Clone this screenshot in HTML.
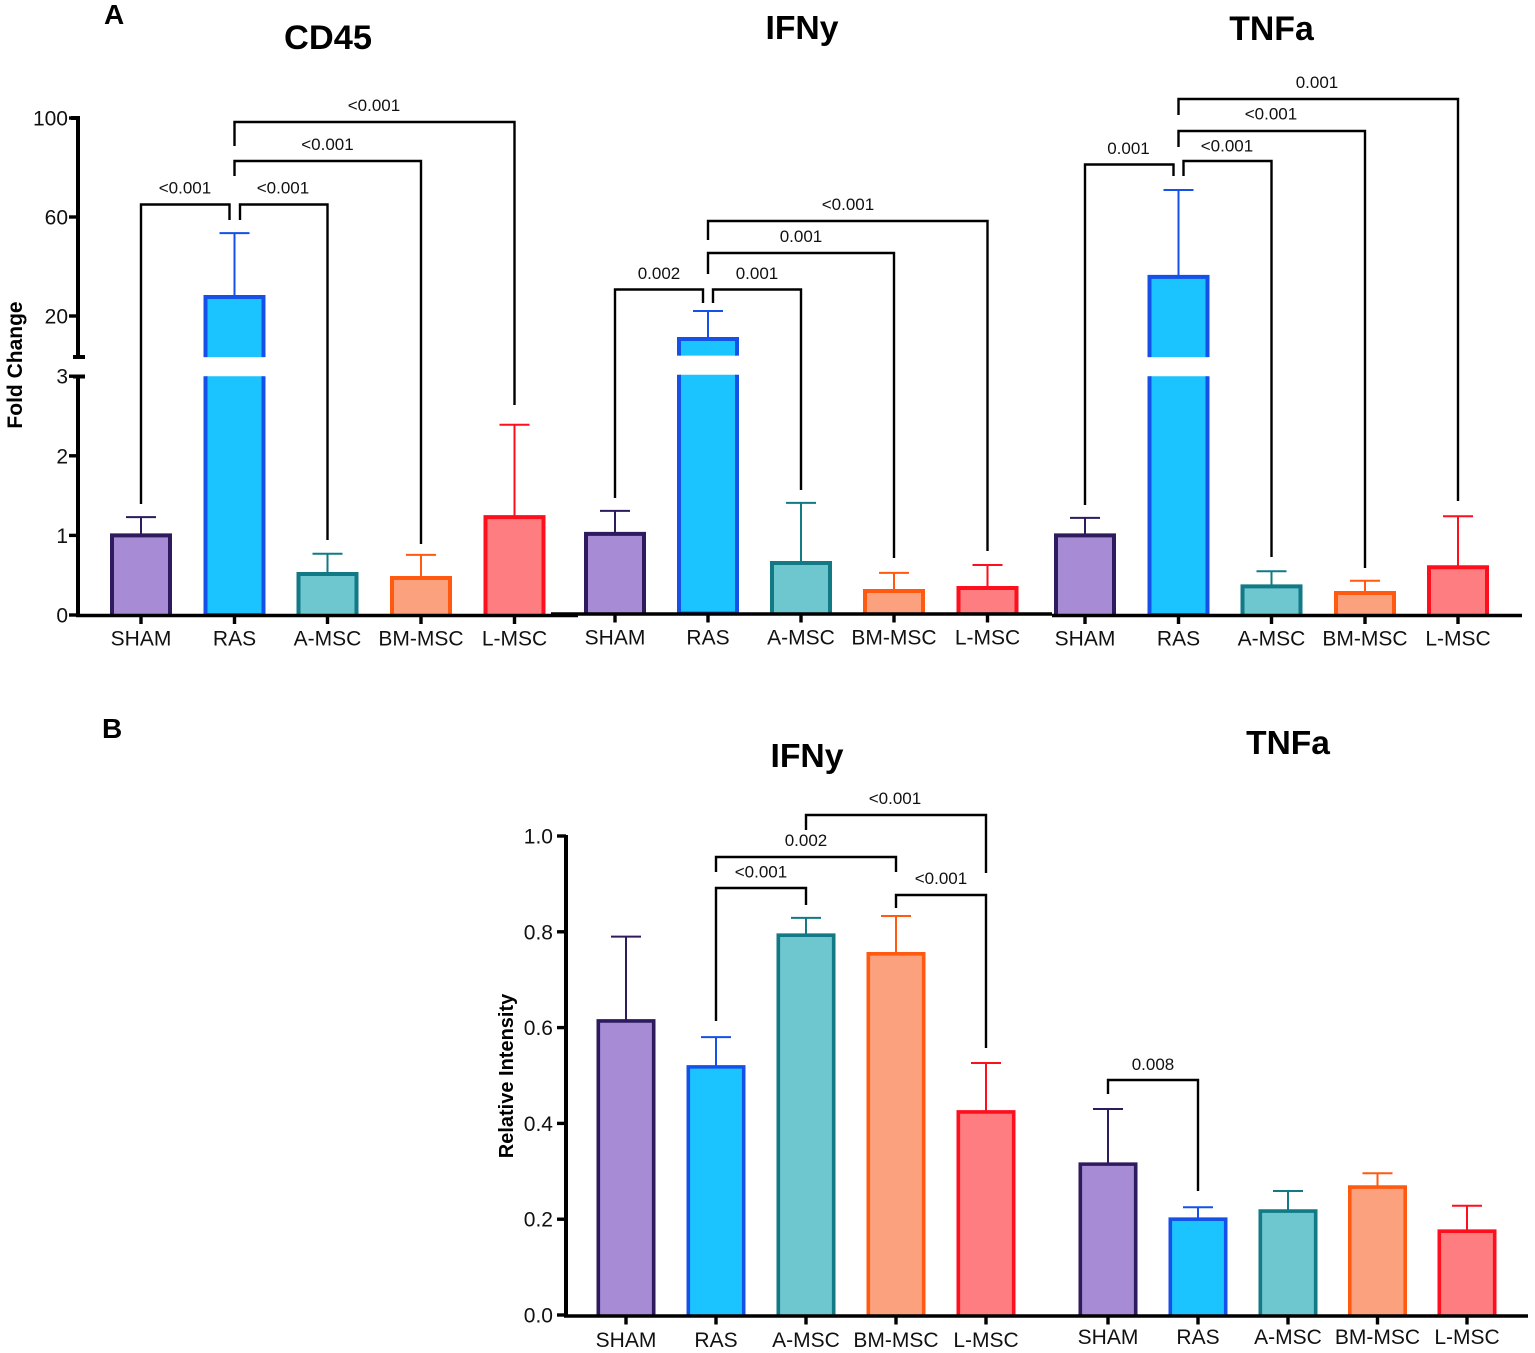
<!DOCTYPE html>
<html lang="en">
<head>
<meta charset="utf-8">
<title>Fold change and relative intensity bar charts</title>
<style>
html,body{margin:0;padding:0;background:#fff;}
body{width:1535px;height:1353px;overflow:hidden;}
svg{display:block;font-family:"Liberation Sans",Arial,sans-serif;}
</style>
</head>
<body>
<svg id="figure" xmlns="http://www.w3.org/2000/svg" width="1535" height="1353" viewBox="0 0 1535 1353">
  <rect x="0" y="0" width="1535" height="1353" fill="#fff"/>
  <text x="104" y="24" font-size="28" font-weight="700">A</text>
  <text x="102" y="738" font-size="28" font-weight="700">B</text>
  <text x="328" y="49" font-size="34.4" font-weight="700" text-anchor="middle">CD45</text>
  <text x="802" y="39" font-size="33.7" font-weight="700" text-anchor="middle">IFNy</text>
  <text x="1271.500" y="40" font-size="33.8" font-weight="700" text-anchor="middle">TNFa</text>
  <text x="807" y="767" font-size="33.7" font-weight="700" text-anchor="middle">IFNy</text>
  <text x="1288" y="754" font-size="33.5" font-weight="700" text-anchor="middle">TNFa</text>
  <text transform="translate(22 365) rotate(-90)" font-size="21" font-weight="700" text-anchor="middle">Fold Change</text>
  <text transform="translate(513 1076) rotate(-90)" font-size="20" font-weight="700" text-anchor="middle">Relative Intensity</text>
</svg>
<script>
// ---- Data ----
const categories = ['SHAM', 'RAS', 'A-MSC', 'BM-MSC', 'L-MSC'];

const cd45Means = [1.0, 27.7, 0.515, 0.465, 1.23];
const cd45Tops = [1.23, 53.5, 0.77, 0.755, 2.39];
const ifnyAMeans = [1.0, 10.1, 0.634, 0.283, 0.32];
const ifnyATops = [1.29, 21.4, 1.39, 0.51, 0.61];
const tnfaAMeans = [1.0, 35.8, 0.36, 0.276, 0.6];
const tnfaATops = [1.22, 70.9, 0.55, 0.43, 1.24];

const ifnyBMeans = [0.614, 0.518, 0.793, 0.754, 0.424];
const ifnyBTops = [0.79, 0.58, 0.829, 0.833, 0.526];
const tnfaBMeans = [0.315, 0.2, 0.217, 0.267, 0.175];
const tnfaBTops = [0.43, 0.225, 0.259, 0.296, 0.228];

const foldLowerTicks = [0, 1, 2, 3];
const foldUpperTicks = [20, 60, 100];
const intensityTicks = [0, 0.2, 0.4, 0.6, 0.8, 1.0];
const intensityTickLabels = ['0.0', '0.2', '0.4', '0.6', '0.8', '1.0'];

// Significance comparisons: group indices and printed p value
const cd45Pairs = [[0, 1], [1, 2], [1, 3], [1, 4]];
const cd45PValues = ['<0.001', '<0.001', '<0.001', '<0.001'];
const ifnyAPairs = [[0, 1], [1, 2], [1, 3], [1, 4]];
const ifnyAPValues = ['0.002', '0.001', '0.001', '<0.001'];
const tnfaAPairs = [[0, 1], [1, 2], [1, 3], [1, 4]];
const tnfaAPValues = ['0.001', '<0.001', '<0.001', '0.001'];
const ifnyBPairs = [[1, 2], [1, 3], [2, 4], [3, 4]];
const ifnyBPValues = ['<0.001', '0.002', '<0.001', '<0.001'];
const tnfaBPairs = [[0, 1]];
const tnfaBPValues = ['0.008'];

// ---- Styling and layout ----
const fills = ['#a78bd4', '#1cc4ff', '#6ec6cf', '#fca17d', '#fe7d80'];
const strokes = ['#2d1b5e', '#1550e8', '#117a85', '#ff5a10', '#fe0f1d'];
const svg = document.getElementById('figure');
const NS = 'http://www.w3.org/2000/svg';

function make(tag, attrs) {
  const el = document.createElementNS(NS, tag);
  for (const k in attrs) el.setAttribute(k, attrs[k]);
  svg.appendChild(el);
  return el;
}
function slug(s) { return s.toLowerCase().replace(/[^a-z0-9]+/g, '-'); }

// Axis functions
const LOWER_MAX = 3, UPPER_MIN = 3.4;
function foldY(v, base) {
  if (v <= LOWER_MAX) return base - v * 79.6;
  return base - 299 - (v - 20) * 2.475;
}
function intensityY(v) { return 1315 - v * 479; }

function drawBar(panel, i, x, w, sw, yFn, value, top, broken) {
  const name = panel + '-' + slug(categories[i]);
  const base = yFn(0);
  const half = w / 2;
  const inset = sw / 2;
  const capHalf = 15;
  const topY = yFn(top);
  const valY = yFn(value);

  const err = make('path', { d: `M${x} ${valY}V${topY}M${x - capHalf} ${topY}H${x + capHalf}`, fill: 'none', stroke: strokes[i], 'stroke-width': 2 });
  
  

  if (broken && value > LOWER_MAX) {
    const yBreakLow = yFn(LOWER_MAX), yBreakHigh = yFn(UPPER_MIN);
    const low = make('path', { d: `M${x - half + inset} ${yBreakLow}V${base}H${x + half - inset}V${yBreakLow}`, fill: fills[i], stroke: strokes[i], 'stroke-width': sw });
    
    
    const up = make('path', { d: `M${x - half + inset} ${yBreakHigh}V${valY}H${x + half - inset}V${yBreakHigh}`, fill: fills[i], stroke: strokes[i], 'stroke-width': sw });
    
    
  } else {
    const bar = make('path', { d: `M${x - half + inset} ${base}V${valY}H${x + half - inset}V${base}`, fill: fills[i], stroke: strokes[i], 'stroke-width': sw });
    
    
  }
}

function drawXAxis(panel, xs, x0, x1, y, labelY, sw) {
  const axis = make('line', { x1: x0, x2: x1, y1: y, y2: y, stroke: '#000', 'stroke-width': sw });
  
  
  xs.forEach((x, i) => {
    const t = make('line', { x1: x, x2: x, y1: y, y2: y + 8.5, stroke: '#000', 'stroke-width': 3.4 });
    
    
    const l = make('text', { x: x, y: labelY, 'font-size': 21, 'text-anchor': 'middle', fill: '#111' });
    l.textContent = categories[i];
    
    
  });
}

function drawYTick(panel, y, label, axisX, labelX) {
  const t = make('line', { x1: axisX - 9, x2: axisX, y1: y, y2: y, stroke: '#000', 'stroke-width': 3.4 });
  
  
  const l = make('text', { x: labelX, y: y + 7.5, 'font-size': 21, 'text-anchor': 'end', fill: '#111' });
  l.textContent = label;
  
  
}

function drawBracket(panel, k, xs, pair, pValue, g) {
  const xL = xs[pair[0]] + g.dl, xR = xs[pair[1]] + g.dr;
  const p = make('path', { d: `M${xL} ${g.endL}V${g.top}H${xR}V${g.endR}`, fill: 'none', stroke: '#000', 'stroke-width': 2.4 });
  
  
  const t = make('text', { x: g.lx, y: g.ly, 'font-size': 17, 'text-anchor': 'middle', fill: '#111' });
  t.textContent = pValue;
  
  
}

// ---- Panel A ----
const cd45X = [141, 234.5, 327.5, 421, 514.5];
const ifnyAX = [615, 708, 801, 894, 987.5];
const tnfaAX = [1085, 1178.5, 1271.5, 1365, 1458];
const BASE_A = 615, BASE_A_MID = 613.5;
const yCd45 = v => foldY(v, BASE_A);
const yIfnyA = v => foldY(v, BASE_A_MID);
const yTnfaA = v => foldY(v, BASE_A);

const panelSets = [
  ['cd45', cd45X, cd45Means, cd45Tops, yCd45],
  ['ifny-a', ifnyAX, ifnyAMeans, ifnyATops, yIfnyA],
  ['tnfa-a', tnfaAX, tnfaAMeans, tnfaATops, yTnfaA]
];
panelSets.forEach(([panel, xs, means, tops, yFn]) => {
  means.forEach((m, i) => drawBar(panel, i, xs[i], 62, 4, yFn, m, tops[i], true));
});

drawXAxis('cd45', cd45X, 76, 578, BASE_A + 0.5, 645.5, 3.6);
drawXAxis('ifny-a', ifnyAX, 551, 1052, BASE_A_MID + 0.5, 644.5, 3.6);
drawXAxis('tnfa-a', tnfaAX, 1052, 1522, BASE_A + 0.5, 645.5, 3.6);

// Fold-change broken y axis
const foldAxisUpper = make('path', { d: `M71 118H80M78 118V357M73 357H85`, fill: 'none', stroke: '#000', 'stroke-width': 4 });


const foldAxisLower = make('path', { d: `M73 376.500H85M78 376.500V616`, fill: 'none', stroke: '#000', 'stroke-width': 4 });


foldUpperTicks.forEach(v => drawYTick('fold-change', yCd45(v), String(v), 78, 68));
foldLowerTicks.forEach(v => drawYTick('fold-change', yCd45(v), String(v), 78, 68));

drawBracket('cd45', 0, cd45X, cd45Pairs[0], cd45PValues[0], { dl: 0, dr: -5, top: 204.5, endL: 504, endR: 220, lx: 185, ly: 193.5 });
drawBracket('cd45', 1, cd45X, cd45Pairs[1], cd45PValues[1], { dl: 5.5, dr: 0, top: 204.5, endL: 220, endR: 540, lx: 283, ly: 193.5 });
drawBracket('cd45', 2, cd45X, cd45Pairs[2], cd45PValues[2], { dl: 0, dr: 0, top: 161, endL: 176, endR: 544, lx: 327.5, ly: 150 });
drawBracket('cd45', 3, cd45X, cd45Pairs[3], cd45PValues[3], { dl: 0, dr: 0, top: 122, endL: 146, endR: 405, lx: 374, ly: 111 });

drawBracket('ifny-a', 0, ifnyAX, ifnyAPairs[0], ifnyAPValues[0], { dl: 0, dr: -5, top: 289.5, endL: 498, endR: 303, lx: 659, ly: 279 });
drawBracket('ifny-a', 1, ifnyAX, ifnyAPairs[1], ifnyAPValues[1], { dl: 5, dr: 0, top: 289.5, endL: 303, endR: 490, lx: 757, ly: 279 });
drawBracket('ifny-a', 2, ifnyAX, ifnyAPairs[2], ifnyAPValues[2], { dl: 0, dr: 0, top: 253, endL: 274, endR: 558, lx: 801, ly: 242 });
drawBracket('ifny-a', 3, ifnyAX, ifnyAPairs[3], ifnyAPValues[3], { dl: 0, dr: 0, top: 221, endL: 240, endR: 551, lx: 848, ly: 210 });

drawBracket('tnfa-a', 0, tnfaAX, tnfaAPairs[0], tnfaAPValues[0], { dl: 0, dr: -5, top: 164.5, endL: 505, endR: 176, lx: 1128.5, ly: 154 });
drawBracket('tnfa-a', 1, tnfaAX, tnfaAPairs[1], tnfaAPValues[1], { dl: 5, dr: 0, top: 161, endL: 176, endR: 557, lx: 1227, ly: 151.5 });
drawBracket('tnfa-a', 2, tnfaAX, tnfaAPairs[2], tnfaAPValues[2], { dl: 0, dr: 0, top: 131, endL: 147, endR: 568, lx: 1271, ly: 119.5 });
drawBracket('tnfa-a', 3, tnfaAX, tnfaAPairs[3], tnfaAPValues[3], { dl: 0, dr: 0, top: 99, endL: 115, endR: 501, lx: 1317, ly: 88 });

// ---- Panel B ----
const ifnyBX = [626, 716, 806, 896, 986];
const tnfaBX = [1108, 1198, 1288, 1377.5, 1467];

ifnyBMeans.forEach((m, i) => drawBar('ifny-b', i, ifnyBX[i], 59, 3.6, intensityY, m, ifnyBTops[i], false));
tnfaBMeans.forEach((m, i) => drawBar('tnfa-b', i, tnfaBX[i], 59, 3.6, intensityY, m, tnfaBTops[i], false));

drawXAxis('ifny-b', ifnyBX, 564, 1045, 1316, 1347, 3.4);
drawXAxis('tnfa-b', tnfaBX, 1045, 1528, 1316, 1344, 3.4);

const intensityAxis = make('line', { x1: 566, x2: 566, y1: 835, y2: 1317, stroke: '#000', 'stroke-width': 4 });


intensityTicks.forEach((v, i) => drawYTick('relative-intensity', intensityY(v), intensityTickLabels[i], 566, 553));

drawBracket('ifny-b', 0, ifnyBX, ifnyBPairs[0], ifnyBPValues[0], { dl: 0, dr: 0, top: 888, endL: 1021, endR: 905, lx: 761, ly: 877.5 });
drawBracket('ifny-b', 1, ifnyBX, ifnyBPairs[1], ifnyBPValues[1], { dl: 0, dr: 0, top: 857, endL: 872, endR: 872, lx: 806, ly: 846 });
drawBracket('ifny-b', 2, ifnyBX, ifnyBPairs[2], ifnyBPValues[2], { dl: 0, dr: 0, top: 815, endL: 830, endR: 873, lx: 895, ly: 804 });
drawBracket('ifny-b', 3, ifnyBX, ifnyBPairs[3], ifnyBPValues[3], { dl: 0, dr: 0, top: 895, endL: 908, endR: 1048, lx: 941, ly: 884 });
drawBracket('tnfa-b', 0, tnfaBX, tnfaBPairs[0], tnfaBPValues[0], { dl: 0, dr: 0, top: 1080, endL: 1094, endR: 1191, lx: 1153, ly: 1070 });
</script>
</body>
</html>
